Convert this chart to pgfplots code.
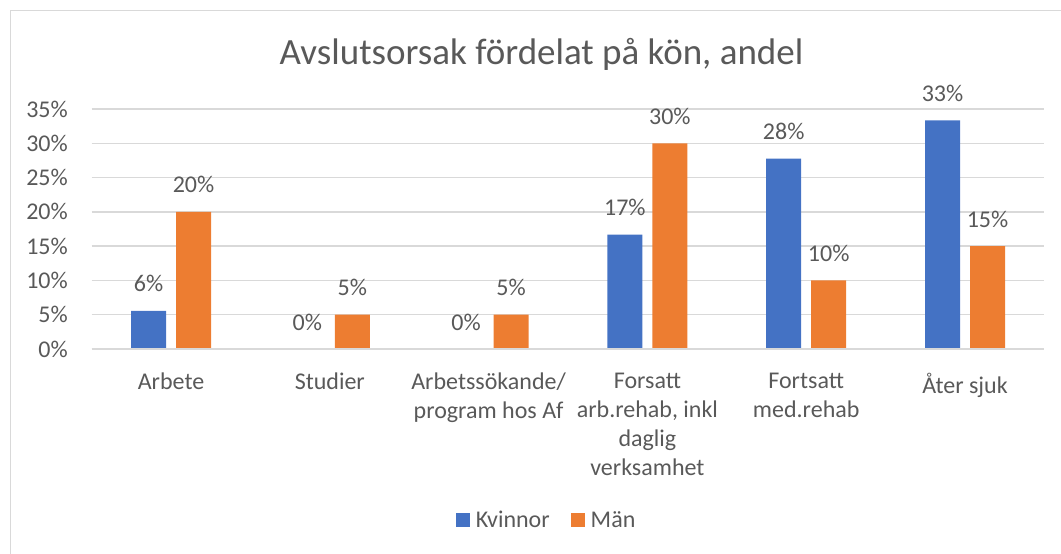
\documentclass[border=0pt]{standalone}
\usepackage{fontspec}
\setmainfont{Carlito}
\usepackage{pgfplots}
\pgfplotsset{compat=1.18}
\definecolor{cblue}{HTML}{4472C4}
\definecolor{corange}{HTML}{ED7D31}
\definecolor{cgrid}{HTML}{D9D9D9}
\definecolor{ctext}{HTML}{595959}
\begin{document}
\begin{tikzpicture}[x=1pt,y=1pt]
\path[use as bounding box] (0,0) rectangle (1061,554);
\draw[cgrid, line width=1pt] (10.5,0) -- (10.5,543.5) -- (1061,543.5);
\node[anchor=base, text=ctext, inner sep=0pt, font=\fontsize{37}{44}\selectfont] at (541.5,489) {Avslutsorsak fördelat på kön, andel};
\begin{axis}[
  at={(91.6pt,205pt)}, anchor=south west, scale only axis,
  width=952.8pt, height=240pt,
  xmin=-0.5, xmax=5.5, ymin=0, ymax=35,
  enlargelimits=false,
  ybar=10pt, bar width=35pt,
  /pgf/number format/assume math mode=true,
  axis x line*=bottom, axis y line*=left,
  y axis line style={draw=none},
  x axis line style={draw=none},
  tick style={draw=none},
  ymajorgrids, grid style={cgrid, line width=1.3pt},
  ytick={0,5,...,35},
  yticklabel={\pgfmathprintnumber{\tick}\%},
  yticklabel style={font=\fontsize{24}{29}\selectfont, text=ctext, anchor=east, inner sep=0pt, xshift=-23.6pt},
  xtick={0,1,2,3,4,5},
  xticklabels={Arbete, Studier, {Arbetssökande/\\program hos Af}, {Forsatt\\arb.rehab, inkl\\daglig\\verksamhet}, {Fortsatt\\med.rehab}, Åter sjuk},
  xticklabel style={font=\fontsize{24}{29}\selectfont, text=ctext, align=center, anchor=north, inner sep=0pt, yshift=-19.5pt},
  nodes near coords={\pgfmathprintnumber[fixed,precision=0]{\pgfplotspointmeta}\%},
  nodes near coords style={font=\fontsize{24}{29}\selectfont, text=ctext, anchor=south, inner sep=0pt, yshift=18.5pt},
  legend image code/.code={\fill[#1] (0pt,-7pt) rectangle (14pt,7pt);},
  legend style={at={(0.4765,-0.7125)}, anchor=center, draw=none, fill=none,
    legend columns=2, font=\fontsize{24}{29}\selectfont, text=ctext,
    nodes={inner sep=0pt},
    /tikz/every odd column/.append style={column sep=6pt},
    /tikz/every even column/.append style={column sep=21pt}},
]
\addplot[fill=cblue, draw=none] coordinates {(0,5.56) (1,0) (2,0) (3,16.67) (4,27.78) (5,33.33)};
\addlegendentry{Kvinnor}
\addplot[fill=corange, draw=none] coordinates {(0,20) (1,5) (2,5) (3,30) (4,10) (5,15)};
\addlegendentry{Män}
\draw[cgrid, line width=1.5pt] (rel axis cs:0,0) -- (rel axis cs:1,0);
\end{axis}
\end{tikzpicture}
\end{document}
